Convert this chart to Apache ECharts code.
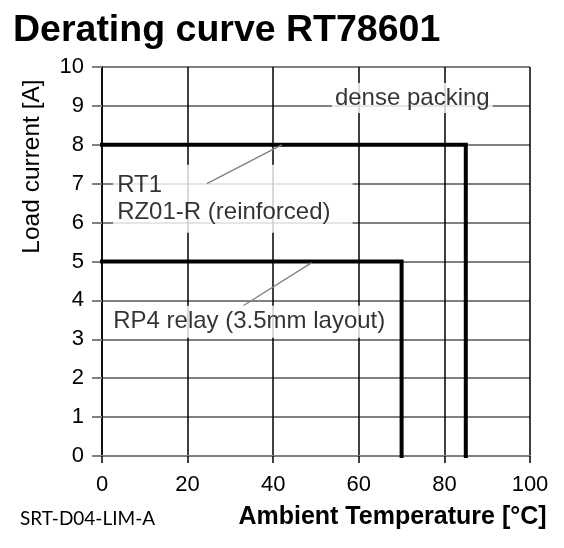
<!DOCTYPE html>
<html>
<head>
<meta charset="utf-8">
<script src="https://cdn.jsdelivr.net/npm/echarts@6/dist/echarts.min.js"></script>
<style>
  html, body { margin: 0; padding: 0; background: #fff; }
  #chart { width: 564px; height: 548px; }
</style>
</head>
<body>
<div id="chart"></div>
<script>
// ---- data ----
const titleText = 'Derating curve RT78601';
const noteText = 'SRT-D04-LIM-A';
const xAxisTitle = 'Ambient Temperature [°C]';
const yAxisTitle = 'Load current [A]';

const xTicks = [0, 20, 40, 60, 80, 100];
const yTicks = [0, 1, 2, 3, 4, 5, 6, 7, 8, 9, 10];

// RT1 / RZ01-R (reinforced), dense packing
const tempRT1 = [0, 85, 85];
const currentRT1 = [8, 8, 0];
// RP4 relay (3.5mm layout)
const tempRP4 = [0, 70, 70];
const currentRP4 = [5, 5, 0];

// annotation texts and their anchor points (data units)
const noteDense = { text: 'dense packing', x: 72.5, y: 9.2 };
const noteRT1 = { text: 'RT1\nRZ01-R (reinforced)', x: 2.6, y: 6.61 };
const noteRP4 = { text: 'RP4 relay (3.5mm layout)', x: 34.4, y: 3.45 };

// leader lines (data units)
const leaderRT1X = [24.5, 42];
const leaderRT1Y = [7.0, 8.0];
const leaderRP4X = [33.1, 49];
const leaderRP4Y = [3.87, 4.97];

// ---- chart ----
const FONT = '"Liberation Sans", Arial, sans-serif';
const zip = (xs, ys) => xs.map((v, i) => [v, ys[i]]);

const chart = echarts.init(document.getElementById('chart'), null, { renderer: 'canvas' });

const noteLabel = (extra) => Object.assign({
  show: true,
  position: 'inside',
  color: '#000',
  fontFamily: FONT,
  fontSize: 24,
  backgroundColor: '#fff',
  formatter: p => p.name
}, extra);

chart.setOption({
  backgroundColor: '#fff',
  animation: false,
  title: [
    {
      text: titleText, left: 13, top: 12, padding: 0,
      textStyle: { fontFamily: FONT, fontSize: 37.5, fontWeight: 'bold', color: '#000' }
    },
    {
      text: noteText, left: 20, top: 509, padding: 0,
      textStyle: { fontFamily: 'Lato, "Open Sans", sans-serif', fontSize: 19, fontWeight: 'normal', color: '#000' }
    }
  ],
  grid: { left: 102, right: 34, top: 67, bottom: 92, containLabel: false },
  xAxis: {
    type: 'value', min: 0, max: 100, interval: 20,
    name: xAxisTitle, nameLocation: 'middle', nameGap: 49,
    nameTextStyle: { fontFamily: FONT, fontSize: 25, fontWeight: 'bold', color: '#000', padding: [0, 0, 0, 153] },
    axisLine: { show: true, lineStyle: { color: '#808080', width: 2 } },
    axisTick: { show: true, length: 7, lineStyle: { color: '#000', width: 1.5 } },
    axisLabel: { fontFamily: FONT, fontSize: 22, color: '#000', margin: 18 },
    splitLine: { show: true, lineStyle: { color: '#000', width: 1.5 } }
  },
  yAxis: {
    type: 'value', min: 0, max: 10, interval: 1,
    name: yAxisTitle, nameLocation: 'middle', nameGap: 57,
    nameTextStyle: { fontFamily: FONT, fontSize: 24.5, fontWeight: 'normal', color: '#000', padding: [0, 0, 0, 190] },
    axisLine: { show: true, lineStyle: { color: '#000', width: 1.5 } },
    axisTick: { show: true, length: 10, lineStyle: { color: '#808080', width: 2 } },
    axisLabel: { fontFamily: FONT, fontSize: 22, color: '#000', margin: 18 },
    splitLine: { show: true, lineStyle: { color: '#808080', width: 2 } }
  },
  series: [
    {
      name: 'RT1 / RZ01-R', type: 'line', data: zip(tempRT1, currentRT1),
      showSymbol: false, symbol: 'none', z: 2,
      lineStyle: { color: '#000', width: 4, cap: 'square', join: 'miter' }
    },
    {
      name: 'RP4 relay', type: 'line', data: zip(tempRP4, currentRP4),
      showSymbol: false, symbol: 'none', z: 2,
      lineStyle: { color: '#000', width: 4, cap: 'square', join: 'miter' }
    },
    {
      name: 'notes', type: 'scatter', symbolSize: 0, z: 3, silent: true,
      data: [
        { name: noteDense.text, value: [noteDense.x, noteDense.y],
          label: noteLabel({ align: 'center', verticalAlign: 'middle', padding: [2, 3, 2, 3], lineHeight: 26 }) },
        { name: noteRT1.text, value: [noteRT1.x, noteRT1.y],
          label: noteLabel({ align: 'left', verticalAlign: 'middle', padding: [7, 22, 7, 4], lineHeight: 27 }) },
        { name: noteRP4.text, value: [noteRP4.x, noteRP4.y],
          label: noteLabel({ align: 'center', verticalAlign: 'middle', padding: [3, 5, 3, 5], lineHeight: 26 }) }
      ]
    },
    {
      name: 'leader RT1', type: 'line', data: zip(leaderRT1X, leaderRT1Y),
      symbol: 'none', z: 4, silent: true,
      lineStyle: { color: '#808080', width: 1.3 }
    },
    {
      name: 'leader RP4', type: 'line', data: zip(leaderRP4X, leaderRP4Y),
      symbol: 'none', z: 4, silent: true,
      lineStyle: { color: '#808080', width: 1.3 }
    }
  ]
});
</script>
</body>
</html>
